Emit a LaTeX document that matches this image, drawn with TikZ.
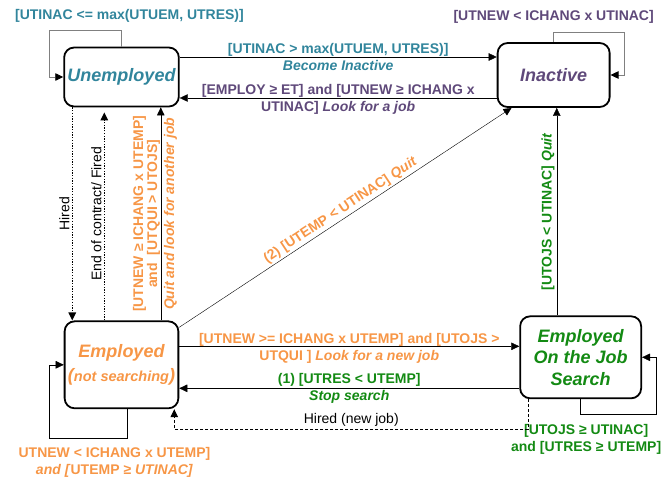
\documentclass[tikz,border=0pt]{standalone}
\usepackage{fontspec}
\setmainfont{Liberation Sans}
\usepackage{tikz}
\usetikzlibrary{positioning, arrows.meta}
\definecolor{unemp}{HTML}{31859C}
\definecolor{inact}{HTML}{5F497A}
\definecolor{emp}{HTML}{F79646}
\definecolor{ojs}{HTML}{138A13}
\tikzset{
    ->,  % every connector is directed
    >={Triangle[length=8pt, width=7.5pt]}, % filled arrow heads
    line width=1.2pt, % connectors
    x=1pt, y=-1pt, % one unit is one pixel of the sketch, y runs downwards
    box/.style={draw, line width=1.8pt, rounded corners=10pt, align=center, font=\fontsize{18}{21.5}\selectfont\bfseries\itshape}, % the four states
    lbl/.style={font=\fontsize{14}{17}\selectfont\bfseries, inner sep=2pt, align=center}, % coloured conditions
    txt/.style={font=\fontsize{14}{17}\selectfont, inner sep=2pt}, % plain black labels
    gloop/.style={gray, line width=0.8pt, -{Triangle[length=8pt, width=7.5pt, color=black]}}, % thin self loops
    dots/.style={dash pattern=on 1.3pt off 1.4pt, line width=1.4pt},
    dsh/.style={dash pattern=on 3pt off 2pt, line width=0.8pt},
    }
\begin{document}
\begin{tikzpicture}
\useasboundingbox (0,0) rectangle (662,477);
\node[box, text=unemp, minimum width=111pt, minimum height=59pt] (1) at (121.5,77) {Unemployed};
\node[box, text=inact, minimum width=112pt, minimum height=64pt, right=317pt of 1, yshift=2pt] (2) {Inactive};
\node[box, text=emp, minimum width=112pt, minimum height=87pt, below=213pt of 1] (3) {Employed\\[2pt]{\fontsize{18}{21.5}\selectfont(}{\fontsize{14.5}{17}\selectfont not searching}{\fontsize{18}{21.5}\selectfont)}};
\node[box, text=ojs, minimum width=121pt, minimum height=82pt, right=340pt of 3, yshift=7.5pt] (4) {Employed\\On the Job\\Search};

\draw[gloop] (1.north) -- ++(0,-16) node[lbl, above, yshift=6pt, xshift=8pt, text=unemp] {[UTINAC <= max(UTUEM, UTRES)]} -| ([xshift=-14pt]1.west) -- (1.west);
\draw[gloop] (2.north) -- ++(0,-10) node[lbl, above, yshift=6pt, text=inact] {[UTNEW < ICHANG x UTINAC]} -| ([xshift=14pt]2.east) -- (2.east);
\draw ([xshift=6pt]3.south) -- ++(0,29) node[lbl, below, xshift=-13pt, yshift=-7pt, text=emp] {UTNEW < ICHANG x UTEMP]\\\textit{and [}UTEMP ≥ \textit{UTINAC]}} -| ([xshift=-14.5pt]3.west) -- (3.west);
\draw (4.south) -- ++(0,15) node[lbl, below, xshift=5.5pt, yshift=-7.5pt, text=ojs] {[UTOJS ≥ UTINAC]\\and [UTRES ≥ UTEMP]} -| ([xshift=14.5pt]4.east) -- (4.east);

\draw ([yshift=20pt]1.east) -- ([yshift=20pt]1.east -| 2.west)
    node[lbl, midway, text=unemp] {[UTINAC > max(UTUEM, UTRES)]\\\textit{Become Inactive}};
\draw ([yshift=-21pt]1.east -| 2.west) -- ([yshift=-21pt]1.east)
    node[lbl, midway, yshift=-1pt, text=inact] {[EMPLOY ≥ ET] and [UTNEW ≥ ICHANG x\\UTINAC] \textit{Look for a job}};
\draw ([yshift=18.5pt]3.east) -- ([yshift=18.5pt]3.east -| 4.west)
    node[lbl, midway, yshift=-2pt, text=emp] {[UTNEW >= ICHANG x UTEMP] and [UTOJS >\\UTQUI ] \textit{Look for a new job}};
\draw ([yshift=-23.5pt]3.east -| 4.west) -- ([yshift=-23.5pt]3.east)
    node[lbl, midway, text=ojs] {(1) [UTRES < UTEMP]\\\textit{Stop search}};
\draw[dsh] ([xshift=9pt]4.south west) -- ++(0,30) -| ([xshift=-5pt]3.south east)
    node[txt, pos=0.25, above] {Hired (new job)};

\draw[dots] ([xshift=9pt]1.south west) -- ([xshift=9pt]1.south west |- 3.north)
    node[txt, midway, rotate=90, anchor=south] {Hired};
\draw[dots, shorten >=5pt] ([xshift=41pt]1.south west |- 3.north) -- ([xshift=41pt]1.south west)
    node[txt, midway, rotate=90, anchor=south] {End of contract/ Fired};
\draw ([xshift=-18.5pt]3.north east) -- ([xshift=-18.5pt]3.north east |- 1.south)
    node[lbl, midway, rotate=90, anchor=south, inner sep=0.5pt, text=emp, font=\fontsize{14}{14}\selectfont\bfseries] {[UTNEW ≥ ICHANG x UTEMP]\\and\ \ [UTQUI > UTOJS]}
    node[lbl, midway, rotate=90, anchor=north, inner sep=3pt, text=emp] {\textit{Quit and look for another job}};
\draw (3.33) -- (2.218)
    node[lbl, midway, sloped, above, text=emp] {(2) [UTEMP < UTINAC] \textit{Quit}};
\draw ([xshift=37.5pt]4.north west) -- ([xshift=37.5pt]4.north west |- 2.south)
    node[lbl, midway, rotate=90, anchor=south, text=ojs] {[UTOJS < UTINAC] \textit{Quit}};
\end{tikzpicture}
\end{document}
